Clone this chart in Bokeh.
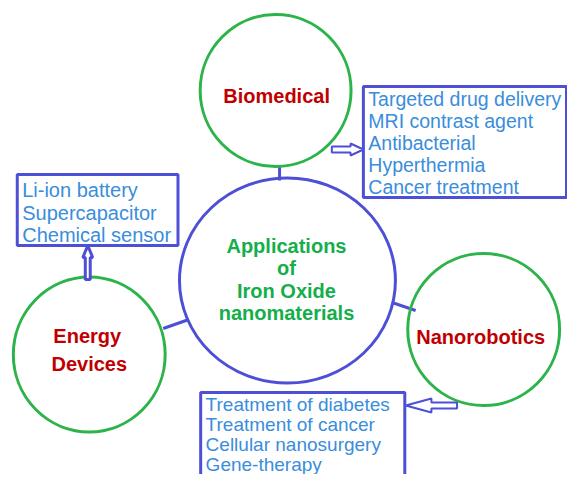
from bokeh.plotting import figure
from bokeh.models import Range1d
from bokeh.core.properties import value
from bokeh.embed import file_html
from bokeh.resources import INLINE

# ---- data (texts) ----
center_lines = ["Applications", "of", "Iron Oxide", "nanomaterials"]
node_labels = ["Biomedical", "Energy", "Devices", "Nanorobotics"]
biomedical_items = ["Targeted drug delivery", "MRI contrast agent", "Antibacterial",
                    "Hyperthermia", "Cancer treatment"]
energy_items = ["Li-ion battery", "Supercapacitor", "Chemical sensor"]
nanorobotics_items = ["Treatment of diabetes", "Treatment of cancer",
                      "Cellular nanosurgery", "Gene-therapy"]

# ---- styles ----
GREEN = "#2cb34a"
BLUE = "#4d4fd6"
BLUE_TXT = "#3a8ddb"
RED = "#c00000"
GREEN_TXT = "#14ae4a"
FONT = value("Liberation Sans")

p = figure(width=567, height=474, output_backend="svg", toolbar_location=None,
           x_range=Range1d(0, 575), y_range=Range1d(474, 0), min_border=0)
p.axis.visible = False
p.grid.visible = False
p.outline_line_color = None
p.background_fill_color = "white"

# ---- layout ----
# connectors
p.line([283, 283], [165, 180], line_color=BLUE, line_width=3)
p.line([165, 191], [328, 319], line_color=BLUE, line_width=3)
p.line([397, 421], [302, 310], line_color=BLUE, line_width=3)

# circles
p.ellipse(x=[291], y=[280], width=[219], height=[205], fill_color=None,
          line_color=BLUE, line_width=3)
p.ellipse(x=[279, 90, 490], y=[90, 354, 329], width=[153, 154, 154],
          height=[152, 155, 152], fill_color=None, line_color=GREEN, line_width=3)

# boxes
p.quad(left=[368, 17, 203], right=[574, 180, 410], top=[86, 174, 392],
       bottom=[197, 245, 500], fill_color=None, line_color=BLUE, line_width=3)

# arrows (outlined block arrows)
p.patch([336, 355, 355, 368, 355, 355, 336], [146, 146, 143, 149, 155, 152, 152],
        fill_color="white", line_color=BLUE, line_width=2)
p.patch([86, 86, 83.5, 88.5, 93.5, 91, 91], [279, 257, 257, 245, 257, 257, 279],
        fill_color="white", line_color=BLUE, line_width=3)
p.patch([463, 437, 437, 411, 437, 437, 463], [402, 402, 398, 405, 412, 408, 408],
        fill_color="white", line_color=BLUE, line_width=2)

# central text
p.text(x=[290] * 4, y=[245.5, 267.5, 290.5, 312.5], text=center_lines, text_font=FONT,
       text_font_style="bold", text_font_size="20px", text_color=GREEN_TXT,
       text_align="center", text_baseline="middle")

# node labels
p.text(x=[280, 88, 90, 487], y=[95, 335, 363.5, 336.5], text=node_labels,
       text_font=FONT, text_font_style="bold", text_font_size="20px",
       text_color=RED, text_align="center", text_baseline="middle")

# lists
def items(x0, ys, labels, size):
    p.text(x=[x0] * len(labels), y=ys, text=labels, text_font=FONT,
           text_font_size=size, text_color=BLUE_TXT, text_align="left",
           text_baseline="middle")

items(373, [98.5, 120.5, 142.5, 164.5, 186.5], biomedical_items, "19.5px")
items(22, [189, 212, 234], energy_items, "20px")
items(208, [404, 424, 444, 464], nanorobotics_items, "19px")

open("out.html", "w").write(file_html(p, INLINE))
